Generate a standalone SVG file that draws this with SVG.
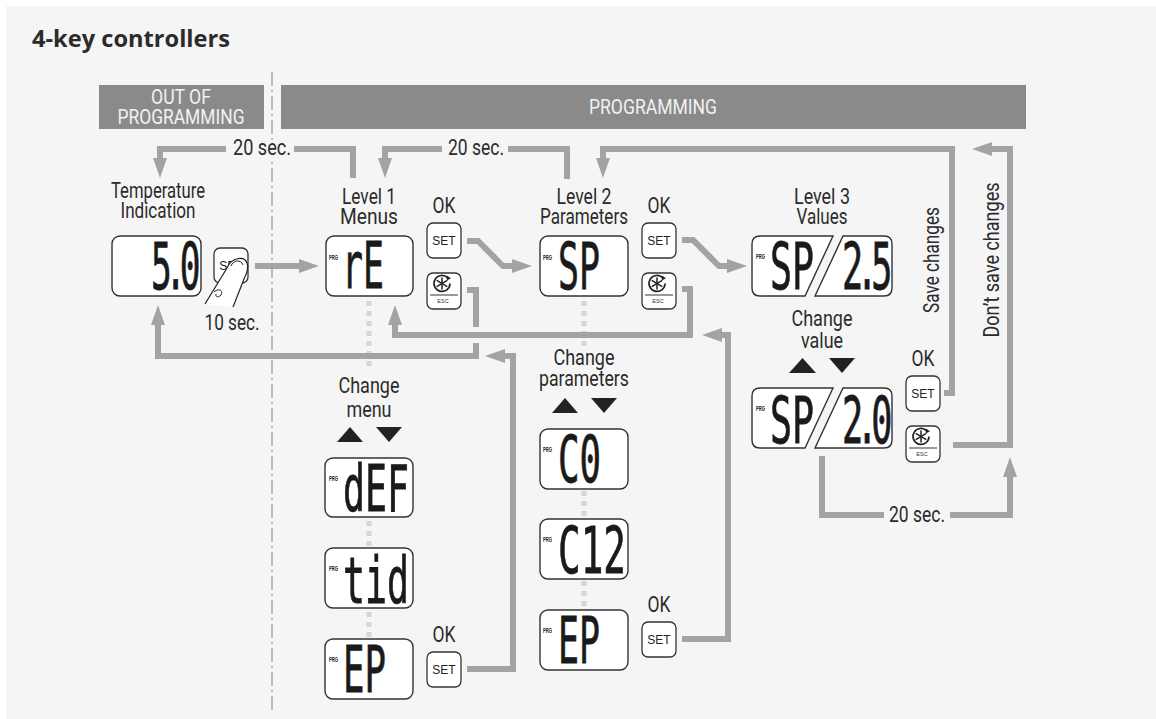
<svg xmlns="http://www.w3.org/2000/svg" xmlns:xlink="http://www.w3.org/1999/xlink" width="1156" height="719" viewBox="0 0 1156 719">
<style>
.lbl{font-family:Roboto,"Open Sans","Liberation Sans",sans-serif;font-size:22px;fill:#2b2b2b;text-anchor:middle}
.bar{fill:#8a8a8a}
.bart{font-family:Roboto,"Open Sans","Liberation Sans",sans-serif;font-size:20px;fill:#f2f2f2;text-anchor:middle}
.conn{fill:none;stroke:#a3a3a3;stroke-width:6;stroke-linejoin:miter}
.dots{fill:none;stroke:#d6d6d6;stroke-width:5;stroke-dasharray:5 5}
.disp{fill:#fff;stroke:#333;stroke-width:1.4}
.lcd{font-family:"DejaVu Sans Mono","Liberation Mono",monospace;font-size:64px;fill:#1a1a1a;stroke:#1a1a1a;stroke-width:0.8}
.lcdn{letter-spacing:-12px}
.prg{font-family:"Liberation Sans",Arial,sans-serif;font-weight:bold;font-size:6.5px;fill:#1a1a1a}
.btn{fill:#fff;stroke:#333;stroke-width:1.3}
.btnt{font-family:"Liberation Sans",Arial,sans-serif;font-size:12px;fill:#222;text-anchor:middle}
.tri{fill:#222}
.halo{fill:#f5f5f5}
</style>
<defs>
<marker id="ah" viewBox="0 0 20 14" refX="10" refY="7" markerWidth="20" markerHeight="14" markerUnits="userSpaceOnUse" orient="auto">
<path d="M0,0 L20,7 L0,14 z" fill="#a3a3a3"/>
</marker>
<g id="setbtn">
<rect class="btn" x="0" y="0" width="34" height="35" rx="6"/>
<text class="btnt" x="17" y="22">SET</text>
</g>
<g id="escbtn">
<rect class="btn" x="0" y="0" width="34" height="36" rx="6"/>
<path d="M20.7,4.8 A8 8 0 1 0 23,10.5" fill="none" stroke="#222" stroke-width="1.7"/>
<path d="M19.8,2.4 L24,5.2 L19.8,7.4 z" fill="#222"/>
<g stroke="#222" stroke-width="1.5" stroke-linecap="round">
<line x1="15" y1="5" x2="15" y2="16"/>
<line x1="10.2" y1="7.7" x2="19.8" y2="13.3"/>
<line x1="10.2" y1="13.3" x2="19.8" y2="7.7"/>
</g>
<line x1="3" y1="22" x2="31" y2="22" stroke="#333" stroke-width="1"/>
<text x="16" y="29.5" font-family="Liberation Sans,Arial,sans-serif" font-size="5.5" fill="#333" text-anchor="middle">ESC</text>
</g>
</defs>

<rect x="0" y="0" width="1156" height="719" fill="#ffffff"/>
<rect x="6" y="6" width="1150" height="713" fill="#f5f5f5"/>

<text x="32" y="47" font-family="'Open Sans','Noto Sans',sans-serif" font-weight="bold" font-size="23" fill="#2b2b2b" textLength="198" lengthAdjust="spacingAndGlyphs">4-key controllers</text>

<g id="header-out">
<rect class="bar" x="99" y="85" width="165" height="44"/>
<text class="bart" x="181" y="104" textLength="60" lengthAdjust="spacingAndGlyphs">OUT OF</text>
<text class="bart" x="181" y="124" textLength="127" lengthAdjust="spacingAndGlyphs">PROGRAMMING</text>
</g>
<g id="header-prog">
<rect class="bar" x="281" y="85" width="745" height="44"/>
<text class="bart" x="653" y="114" textLength="128" lengthAdjust="spacingAndGlyphs">PROGRAMMING</text>
</g>

<line x1="272" y1="72" x2="272" y2="710" stroke="#a8a8a8" stroke-width="1.5" stroke-dasharray="14 4 2 4"/>

<g id="dotted">
<line class="dots" x1="369" y1="301" x2="369" y2="368"/>
<line class="dots" x1="584" y1="301" x2="584" y2="348"/>
<line class="dots" x1="369" y1="521" x2="369" y2="547"/>
<line class="dots" x1="369" y1="612" x2="369" y2="638"/>
<line class="dots" x1="584" y1="491" x2="584" y2="517"/>
<line class="dots" x1="584" y1="581" x2="584" y2="607"/>
</g>

<g id="connectors">
<path class="conn" d="M353,178 V149 H160 V168" marker-end="url(#ah)"/>
<path class="conn" d="M567,179 V149 H385 V168" marker-end="url(#ah)"/>
<path class="conn" d="M944,393 H952 V149 H603 V168" marker-end="url(#ah)"/>
<path class="conn" d="M953,445 H1010 V149 H982" marker-end="url(#ah)"/>
<path class="conn" d="M822,456 V515 H1010 V467" marker-end="url(#ah)"/>
<path class="conn" d="M255,266 H309" marker-end="url(#ah)"/>
<path class="conn" d="M467,241 H478 L503,266 H522" marker-end="url(#ah)"/>
<path class="conn" d="M682,240 H693 L719,266 H737" marker-end="url(#ah)"/>
<path class="conn" d="M467,290 H476 V327 M476,343 V356 H158 V315" marker-end="url(#ah)"/>
<path class="conn" d="M682,289 H690 V335 H395 V315" marker-end="url(#ah)"/>
<path class="conn" d="M467,669 H513 V356 H495" marker-end="url(#ah)"/>
<path class="conn" d="M682,639 H728 V335 H712" marker-end="url(#ah)"/>
<rect class="halo" x="226" y="140" width="68" height="18"/>
<rect class="halo" x="442" y="140" width="66" height="18"/>
<rect class="halo" x="884" y="506" width="66" height="18"/>
<text class="lbl" x="262" y="155" textLength="58" lengthAdjust="spacingAndGlyphs">20 sec.</text>
<text class="lbl" x="476" y="155" textLength="56" lengthAdjust="spacingAndGlyphs">20 sec.</text>
<text class="lbl" x="917" y="522" textLength="56" lengthAdjust="spacingAndGlyphs">20 sec.</text>
<text class="lbl" transform="translate(939,260) rotate(-90)" textLength="106" lengthAdjust="spacingAndGlyphs">Save changes</text>
<text class="lbl" transform="translate(999,260) rotate(-90)" textLength="155" lengthAdjust="spacingAndGlyphs">Don’t save changes</text>
</g>

<g id="temperature">
<text class="lbl" x="158" y="198" textLength="94" lengthAdjust="spacingAndGlyphs">Temperature</text>
<text class="lbl" x="158" y="218" textLength="75" lengthAdjust="spacingAndGlyphs">Indication</text>
<rect class="disp" x="112" y="236" width="89" height="60" rx="8"/>
<text class="lcd lcdn" transform="translate(151,289) scale(0.54,1)">5.0</text>
<use xlink:href="#setbtn" x="214" y="248"/>
<path d="M205,304 L227,268 C231,258 244,255 247,263 C249,268 247,273 244,279 L233,307" fill="#fff" stroke="#222" stroke-width="1.2"/>
<path d="M231,266 C233,260 241,259 243,265" fill="none" stroke="#222" stroke-width="1"/>
<path d="M214,292 C218,288 224,290 221,295 C219,298 215,297 216,294" fill="none" stroke="#222" stroke-width="1"/>
<text class="lbl" x="232" y="330" textLength="55" lengthAdjust="spacingAndGlyphs">10 sec.</text>
</g>

<g id="level1">
<text class="lbl" x="369" y="204" textLength="54" lengthAdjust="spacingAndGlyphs">Level 1</text>
<text class="lbl" x="369" y="224" textLength="58" lengthAdjust="spacingAndGlyphs">Menus</text>
<rect class="disp" x="326" y="236" width="87" height="60" rx="8"/>
<text class="prg" x="329" y="260" textLength="9" lengthAdjust="spacingAndGlyphs">PRG</text>
<text class="lcd" transform="translate(342,288) scale(0.545,1)">rE</text>
<text class="lbl" x="444" y="213" textLength="23" lengthAdjust="spacingAndGlyphs">OK</text>
<use xlink:href="#setbtn" x="427" y="223"/>
<use xlink:href="#escbtn" x="427" y="273"/>
</g>

<g id="level2">
<text class="lbl" x="584" y="204" textLength="55" lengthAdjust="spacingAndGlyphs">Level 2</text>
<text class="lbl" x="584" y="224" textLength="88" lengthAdjust="spacingAndGlyphs">Parameters</text>
<rect class="disp" x="540" y="236" width="88" height="60" rx="8"/>
<text class="prg" x="543" y="260" textLength="9" lengthAdjust="spacingAndGlyphs">PRG</text>
<text class="lcd" transform="translate(558,289) scale(0.545,1)">SP</text>
<text class="lbl" x="659" y="213" textLength="23" lengthAdjust="spacingAndGlyphs">OK</text>
<use xlink:href="#setbtn" x="642" y="223"/>
<use xlink:href="#escbtn" x="642" y="273"/>
</g>

<g id="level3">
<text class="lbl" x="822" y="204" textLength="56" lengthAdjust="spacingAndGlyphs">Level 3</text>
<text class="lbl" x="822" y="224" textLength="51" lengthAdjust="spacingAndGlyphs">Values</text>
<path class="disp" d="M760,236 H833 L805,296 H760 Q752,296 752,288 V244 Q752,236 760,236 z"/>
<path class="disp" d="M843,236 H884 Q892,236 892,244 V288 Q892,296 884,296 H815 z"/>
<text class="prg" x="756" y="259" textLength="9" lengthAdjust="spacingAndGlyphs">PRG</text>
<text class="lcd" transform="translate(770,289) scale(0.571,1)">SP</text>
<text class="lcd lcdn" transform="translate(842,289) scale(0.55,1)">2.5</text>
</g>

<g id="change-value">
<text class="lbl" x="822" y="326" textLength="61" lengthAdjust="spacingAndGlyphs">Change</text>
<text class="lbl" x="822" y="348" textLength="42" lengthAdjust="spacingAndGlyphs">value</text>
<polygon class="tri" points="789,373 802.5,358 816,373"/>
<polygon class="tri" points="829,358 855,358 842,373"/>
<path class="disp" d="M760,388 H833 L805,448 H760 Q752,448 752,440 V396 Q752,388 760,388 z"/>
<path class="disp" d="M843,388 H884 Q892,388 892,396 V440 Q892,448 884,448 H815 z"/>
<text class="prg" x="756" y="411" textLength="9" lengthAdjust="spacingAndGlyphs">PRG</text>
<text class="lcd" transform="translate(770,443) scale(0.571,1)">SP</text>
<text class="lcd lcdn" transform="translate(842,443) scale(0.55,1)">2.0</text>
<text class="lbl" x="923" y="366" textLength="23" lengthAdjust="spacingAndGlyphs">OK</text>
<use xlink:href="#setbtn" x="906" y="376"/>
<use xlink:href="#escbtn" x="906" y="426"/>
</g>

<g id="change-menu">
<text class="lbl" x="369" y="393" textLength="61" lengthAdjust="spacingAndGlyphs">Change</text>
<text class="lbl" x="369" y="417" textLength="45" lengthAdjust="spacingAndGlyphs">menu</text>
<polygon class="tri" points="337,442 350,427 363,442"/>
<polygon class="tri" points="376,427 402,427 389,442"/>
</g>
<g id="menu-def">
<rect class="disp" x="325" y="458" width="88" height="59" rx="8"/>
<text class="prg" x="329" y="481" textLength="9" lengthAdjust="spacingAndGlyphs">PRG</text>
<text class="lcd" transform="translate(343,511) scale(0.571,1)">dEF</text>
</g>
<g id="menu-tid">
<rect class="disp" x="325" y="548" width="88" height="60" rx="8"/>
<text class="prg" x="329" y="571" textLength="9" lengthAdjust="spacingAndGlyphs">PRG</text>
<text class="lcd" transform="translate(343,603) scale(0.571,1)">tid</text>
</g>
<g id="menu-ep">
<rect class="disp" x="325" y="639" width="88" height="60" rx="8"/>
<text class="prg" x="329" y="662" textLength="9" lengthAdjust="spacingAndGlyphs">PRG</text>
<text class="lcd" transform="translate(343,692) scale(0.558,1)">EP</text>
<text class="lbl" x="444" y="642" textLength="23" lengthAdjust="spacingAndGlyphs">OK</text>
<use xlink:href="#setbtn" x="427" y="652"/>
</g>

<g id="change-params">
<text class="lbl" x="584" y="365" textLength="61" lengthAdjust="spacingAndGlyphs">Change</text>
<text class="lbl" x="584" y="386" textLength="90" lengthAdjust="spacingAndGlyphs">parameters</text>
<polygon class="tri" points="552,413 565,398 578,413"/>
<polygon class="tri" points="591,398 617,398 604,413"/>
</g>
<g id="param-c0">
<rect class="disp" x="540" y="429" width="88" height="60" rx="8"/>
<text class="prg" x="543" y="452" textLength="9" lengthAdjust="spacingAndGlyphs">PRG</text>
<text class="lcd" transform="translate(558,482) scale(0.558,1)">C0</text>
</g>
<g id="param-c12">
<rect class="disp" x="540" y="519" width="88" height="60" rx="8"/>
<text class="prg" x="543" y="542" textLength="9" lengthAdjust="spacingAndGlyphs">PRG</text>
<text class="lcd" transform="translate(558,573) scale(0.588,1)">C12</text>
</g>
<g id="param-ep">
<rect class="disp" x="540" y="610" width="88" height="60" rx="8"/>
<text class="prg" x="543" y="633" textLength="9" lengthAdjust="spacingAndGlyphs">PRG</text>
<text class="lcd" transform="translate(558,663) scale(0.545,1)">EP</text>
<text class="lbl" x="659" y="612" textLength="23" lengthAdjust="spacingAndGlyphs">OK</text>
<use xlink:href="#setbtn" x="642" y="622"/>
</g>
</svg>
